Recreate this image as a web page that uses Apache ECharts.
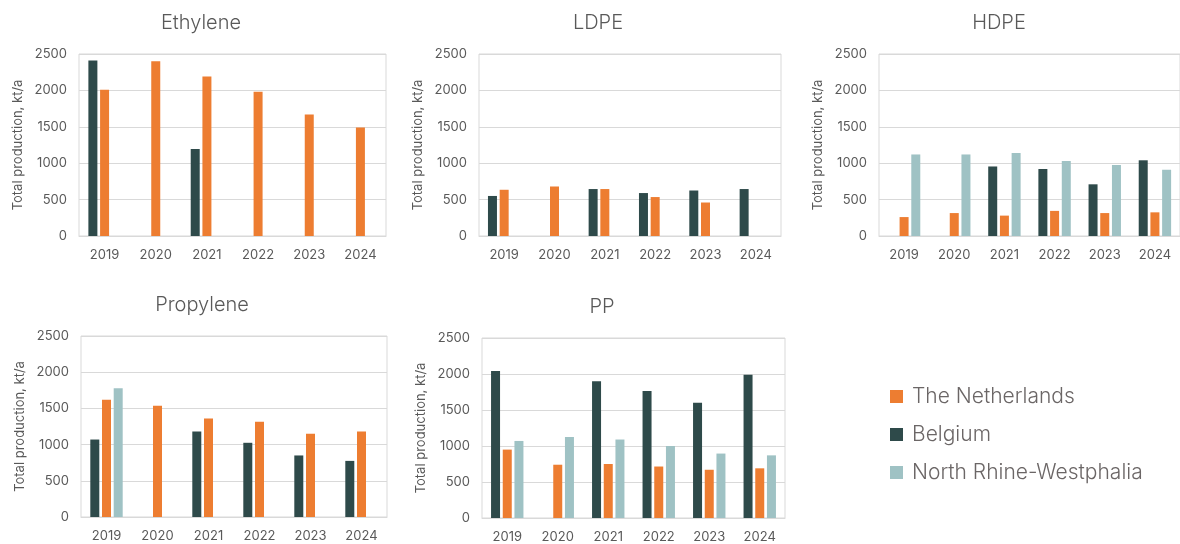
<!DOCTYPE html>
<html>
<head>
<meta charset="utf-8">
<script src="https://cdn.jsdelivr.net/npm/echarts@6/dist/echarts.min.js"></script>
<style>
  html, body { margin: 0; padding: 0; background: #fff; }
  #chart { width: 1180px; height: 544px; }
</style>
</head>
<body>
<div id="chart"></div>
<script>
const years = ["2019", "2020", "2021", "2022", "2023", "2024"];
const yTicks = [0, 500, 1000, 1500, 2000, 2500];

// Belgium, The Netherlands, North Rhine-Westphalia per product (null = no bar)
const ethyleneBE = [2410, null, 1195, null, null, null];
const ethyleneNL = [2010, 2400, 2190, 1980, 1670, 1490];
const ethyleneNRW = [null, null, null, null, null, null];

const ldpeBE = [550, null, 645, 590, 625, 645];
const ldpeNL = [635, 680, 645, 535, 460, null];
const ldpeNRW = [null, null, null, null, null, null];

const hdpeBE = [null, null, 955, 920, 710, 1040];
const hdpeNL = [260, 315, 280, 345, 315, 325];
const hdpeNRW = [1120, 1120, 1140, 1030, 975, 910];

const propyleneBE = [1070, null, 1180, 1025, 850, 775];
const propyleneNL = [1620, 1535, 1360, 1315, 1150, 1180];
const propyleneNRW = [1780, null, null, null, null, null];

const ppBE = [2040, null, 1900, 1765, 1600, 1990];
const ppNL = [950, 740, 750, 715, 670, 690];
const ppNRW = [1070, 1125, 1090, 1000, 895, 870];

const panels = [
  { title: "Ethylene", be: ethyleneBE, nl: ethyleneNL, nrw: ethyleneNRW, titleX: 196, grid: { left: 79, top: 54, width: 307, height: 182 } },
  { title: "LDPE", be: ldpeBE, nl: ldpeNL, nrw: ldpeNRW, titleX: 593, grid: { left: 479, top: 54, width: 302, height: 182 } },
  { title: "HDPE", be: hdpeBE, nl: hdpeNL, nrw: hdpeNRW, titleX: 994, grid: { left: 879, top: 54, width: 304, height: 182 } },
  { title: "Propylene", be: propyleneBE, nl: propyleneNL, nrw: propyleneNRW, titleX: 197, grid: { left: 81, top: 336, width: 306, height: 181 } },
  { title: "PP", be: ppBE, nl: ppNL, nrw: ppNRW, titleX: 597, grid: { left: 482, top: 338, width: 303, height: 181 } }
];

const colors = { nl: "#ED7D31", be: "#2E4A4A", nrw: "#9FC2C4" };
const names = { nl: "The Netherlands", be: "Belgium", nrw: "North Rhine-Westphalia" };
const font = "Inter, 'Noto Sans', sans-serif";
const lineCol = "#d9d9d9";

const chart = echarts.init(document.getElementById("chart"));

const grids = [], xAxes = [], yAxes = [], titles = [], series = [];
panels.forEach((p, i) => {
  grids.push(Object.assign({ show: true, borderColor: lineCol, borderWidth: 1 }, p.grid));
  titles.push({
    text: p.title,
    left: p.titleX,
    top: p.grid.top - 46,
    textAlign: "center",
    textStyle: { fontFamily: font, fontSize: 20, fontWeight: 300, color: "#595959" }
  });
  xAxes.push({
    type: "category",
    gridIndex: i,
    data: years,
    axisLine: { lineStyle: { color: lineCol } },
    axisTick: { show: false },
    axisLabel: { color: "#595959", fontFamily: font, fontSize: 13, margin: 13 }
  });
  yAxes.push({
    type: "value",
    gridIndex: i,
    min: yTicks[0],
    max: yTicks[yTicks.length - 1],
    interval: 500,
    name: "Total production, kt/a",
    nameLocation: "middle",
    nameGap: 54,
    nameTextStyle: { color: "#595959", fontFamily: font, fontSize: 13 },
    axisLine: { show: false },
    axisTick: { show: false },
    splitLine: { lineStyle: { color: lineCol } },
    axisLabel: { color: "#595959", fontFamily: font, fontSize: 13, margin: 12, formatter: v => String(v) }
  });
  ["be", "nl", "nrw"].forEach(k => {
    series.push({
      name: names[k],
      type: "bar",
      xAxisIndex: i,
      yAxisIndex: i,
      data: p[k],
      barWidth: 9,
      barGap: "30%",
      itemStyle: { color: colors[k] }
    });
  });
});

const option = {
  animation: false,
  title: titles,
  grid: grids,
  xAxis: xAxes,
  yAxis: yAxes,
  legend: {
    orient: "vertical",
    left: 885,
    top: 381,
    itemWidth: 13,
    itemHeight: 13,
    itemGap: 17,
    icon: "rect",
    data: [names.nl, names.be, names.nrw],
    textStyle: { color: "#6b6666", fontFamily: font, fontSize: 21, fontWeight: 300, padding: [0, 0, 0, 4] }
  },
  series: series
};
chart.setOption(option);
</script>
</body>
</html>
